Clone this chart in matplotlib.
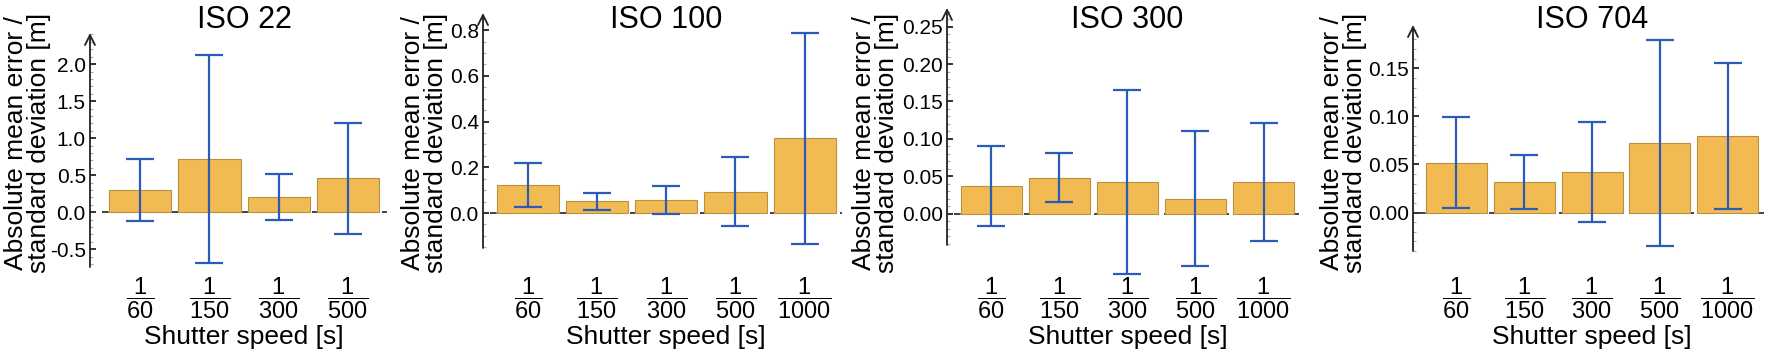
import matplotlib
matplotlib.use("Agg")
import matplotlib.pyplot as plt
from matplotlib.ticker import MultipleLocator, FormatStrFormatter
import numpy as np

plt.rcParams['font.family'] = ['Liberation Sans', 'DejaVu Sans']
plt.rcParams['mathtext.fontset'] = 'custom'
plt.rcParams['mathtext.rm'] = 'Liberation Sans'
plt.rcParams['mathtext.it'] = 'Liberation Sans'
plt.rcParams['mathtext.bf'] = 'Liberation Sans:bold'

# Data (mean error, standard deviation) per ISO setting
titles = ["ISO 22", "ISO 100", "ISO 300", "ISO 704"]
shutter_4 = ["60", "150", "300", "500"]
shutter_5 = ["60", "150", "300", "500", "1000"]

iso22_mean = [0.30, 0.72, 0.20, 0.46]
iso22_std = [0.42, 1.40, 0.31, 0.75]

iso100_mean = [0.122, 0.051, 0.057, 0.093, 0.327]
iso100_std = [0.095, 0.037, 0.063, 0.150, 0.462]

iso300_mean = [0.037, 0.048, 0.042, 0.020, 0.042]
iso300_std = [0.054, 0.033, 0.123, 0.090, 0.079]

iso704_mean = [0.052, 0.032, 0.042, 0.072, 0.080]
iso704_std = [0.047, 0.028, 0.052, 0.107, 0.076]

W, H = 1772, 358
BAR_COLOR = '#F2BA52'
BAR_EDGE = '#B8923F'
ERR_COLOR = '#2B5BB8'

# layout per panel: pixel box (left, right, top, bottom), ylim, major/minor step, format, xlim
panels = [
    (shutter_4, iso22_mean, iso22_std, (90, 387, 33, 267), (-0.74, 2.42), 0.5, 0.1, '%.1f', (-0.72, 3.56)),
    (shutter_5, iso100_mean, iso100_std, (483, 842, 13, 248), (-0.153, 0.875), 0.2, 0.05, '%.1f', (-0.65, 4.54)),
    (shutter_5, iso300_mean, iso300_std, (947, 1301, 8, 245), (-0.042, 0.275), 0.05, 0.01, '%.2f', (-0.65, 4.55)),
    (shutter_5, iso704_mean, iso704_std, (1413, 1765, 25, 251), (-0.040, 0.195), 0.05, 0.01, '%.2f', (-0.64, 4.55)),
]
ylabel_right = [51, 448, 899, 1367]

fig = plt.figure(figsize=(W / 100, H / 100), dpi=100)

for i, (labels, mean, std, box, ylim, major, minor, fmt, xlim) in enumerate(panels):
    l, r, t, b = box
    ax = fig.add_axes([l / W, 1 - b / H, (r - l) / W, (b - t) / H])
    x = np.arange(len(labels))

    ax.bar(x, mean, width=0.9, color=BAR_COLOR, edgecolor=BAR_EDGE, linewidth=0.8, zorder=2)
    eb = ax.errorbar(x, mean, yerr=std, fmt='none', ecolor=ERR_COLOR, elinewidth=1.6,
                     capsize=10, capthick=1.6, zorder=3)
    for art in eb.lines[1] + eb.lines[2]:
        art.set_clip_on(False)

    ax.set_xlim(*xlim)
    ax.set_ylim(*ylim)
    x0 = (-0.55 - xlim[0]) / (xlim[1] - xlim[0])
    ax.axhline(0, xmin=x0, xmax=1, color='#222222', lw=1.2, ls=(0, (4, 3)), zorder=1)

    for s in ['top', 'right', 'bottom', 'left']:
        ax.spines[s].set_visible(False)
    ax.annotate('', xy=(0, 1), xytext=(0, 0), xycoords='axes fraction',
                arrowprops=dict(arrowstyle='->', lw=1.3, color='#222222',
                                shrinkA=0, shrinkB=0, mutation_scale=18))

    ax.yaxis.set_major_locator(MultipleLocator(major))
    ax.yaxis.set_minor_locator(MultipleLocator(minor))
    ax.yaxis.set_major_formatter(FormatStrFormatter(fmt))
    ax.tick_params(axis='y', which='major', direction='in', length=4, width=1.3,
                   labelsize=15, pad=3, color='#222222')
    ax.tick_params(axis='y', which='minor', direction='in', length=2.5, width=0.8,
                   color='#aaaaaa')

    pad_px = 276 - b
    ax.set_xticks(x)
    ax.set_xticklabels([r'$\dfrac{1}{%s}$' % s for s in labels], fontsize=17)
    ax.tick_params(axis='x', length=0, pad=pad_px * 0.72)

    xc = ((len(labels) - 1) / 2 - xlim[0]) / (xlim[1] - xlim[0])
    ax.set_xlabel("Shutter speed [s]", fontsize=19)
    ax.xaxis.set_label_coords(xc, (b - 325) / (b - t))

    ax.set_ylabel("Absolute mean error /\nstandard deviation [m]", fontsize=19,
                  linespacing=0.95)
    ax.yaxis.set_label_coords((ylabel_right[i] - l) / (r - l), (b - 143) / (b - t))

    xc_px = l + xc * (r - l)
    fig.text(xc_px / W, 1 - 28 / H, titles[i], fontsize=22, ha='center', va='baseline')

fig.savefig('out.png', dpi=100)
